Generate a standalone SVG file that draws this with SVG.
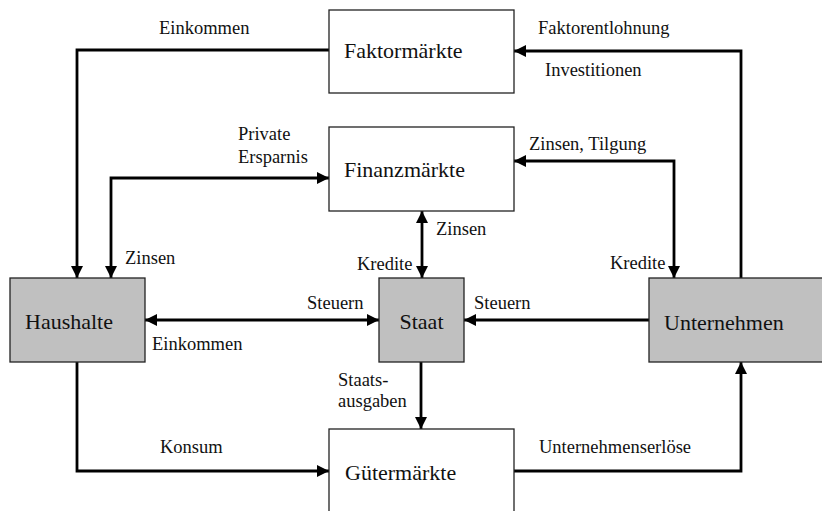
<svg xmlns="http://www.w3.org/2000/svg" width="822" height="511" viewBox="0 0 822 511" font-family="'Liberation Serif', 'Times New Roman', serif">
<style>
text{fill:#111}
.lbl{font-size:18.5px}
.box{font-size:22px}
.w{fill:#fff;stroke:#222;stroke-width:1.3}
.g{fill:#c0c0c0;stroke:#222;stroke-width:1.3}
.c{fill:none;stroke:#000;stroke-width:2.8}
</style>
<defs>
<marker id="ah" markerUnits="userSpaceOnUse" markerWidth="12" markerHeight="12" refX="12" refY="6" orient="auto-start-reverse">
<path d="M0,0 L12,6 L0,12 z" fill="#000"/>
</marker>
</defs>
<rect width="822" height="511" fill="#fff"/>
<g id="connectors">
<path class="c" d="M329,50 H77 V278" marker-end="url(#ah)"/>
<path class="c" d="M111,278 V178 H329" marker-start="url(#ah)" marker-end="url(#ah)"/>
<path class="c" d="M741,278 V51 H514" marker-end="url(#ah)"/>
<path class="c" d="M514,161 H674 V278" marker-start="url(#ah)" marker-end="url(#ah)"/>
<path class="c" d="M422,211 V278" marker-start="url(#ah)" marker-end="url(#ah)"/>
<path class="c" d="M145,320 H379" marker-start="url(#ah)" marker-end="url(#ah)"/>
<path class="c" d="M649,320 H464" marker-end="url(#ah)"/>
<path class="c" d="M421,362 V429" marker-end="url(#ah)"/>
<path class="c" d="M77,362 V471 H329" marker-end="url(#ah)"/>
<path class="c" d="M514,471 H741 V362" marker-end="url(#ah)"/>
<text class="lbl" x="159" y="33.5">Einkommen</text>
<text class="lbl" x="538" y="33.5">Faktorentlohnung</text>
<text class="lbl" x="545" y="76">Investitionen</text>
<text class="lbl" x="238" y="140">Private</text>
<text class="lbl" x="238" y="163">Ersparnis</text>
<text class="lbl" x="529" y="150">Zinsen, Tilgung</text>
<text class="lbl" x="436" y="235">Zinsen</text>
<text class="lbl" x="357" y="270">Kredite</text>
<text class="lbl" x="610" y="269">Kredite</text>
<text class="lbl" x="125" y="264">Zinsen</text>
<text class="lbl" x="307" y="309">Steuern</text>
<text class="lbl" x="152" y="350">Einkommen</text>
<text class="lbl" x="474" y="309">Steuern</text>
<text class="lbl" x="338" y="386">Staats-</text>
<text class="lbl" x="338" y="407">ausgaben</text>
<text class="lbl" x="160" y="453">Konsum</text>
<text class="lbl" x="539" y="453">Unternehmenserlöse</text>
</g>
<g id="faktormaerkte">
<rect class="w" x="329" y="10" width="185" height="83"/>
<text class="box" x="344" y="58">Faktormärkte</text>
</g>
<g id="finanzmaerkte">
<rect class="w" x="329" y="127" width="185" height="84"/>
<text class="box" x="344" y="177">Finanzmärkte</text>
</g>
<g id="haushalte">
<rect class="g" x="10" y="278" width="135" height="84"/>
<text class="box" x="25" y="329">Haushalte</text>
</g>
<g id="staat">
<rect class="g" x="379" y="278" width="85" height="84"/>
<text class="box" x="421.5" y="329" text-anchor="middle">Staat</text>
</g>
<g id="unternehmen">
<rect class="g" x="649" y="278" width="175" height="84"/>
<text class="box" x="664" y="330">Unternehmen</text>
</g>
<g id="guetermaerkte">
<rect class="w" x="329" y="429" width="185" height="84"/>
<text class="box" x="345" y="480">Gütermärkte</text>
</g>
</svg>
